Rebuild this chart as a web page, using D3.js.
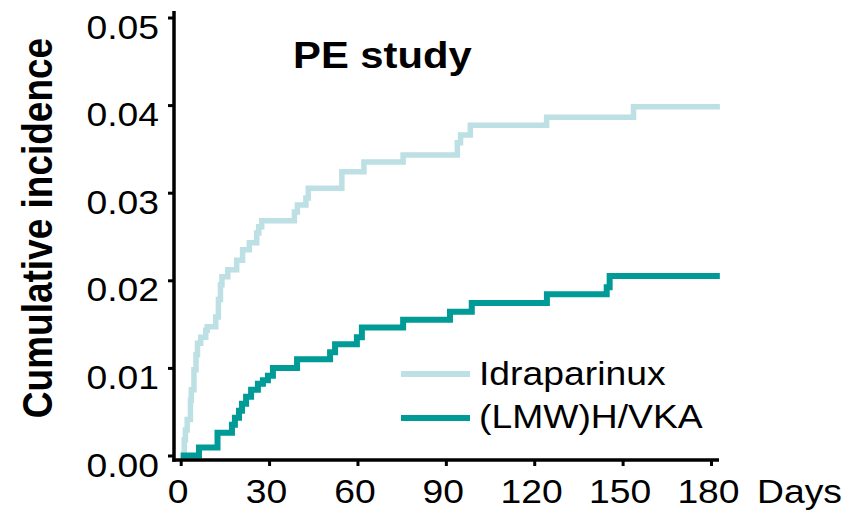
<!DOCTYPE html>
<html>
<head>
<meta charset="utf-8">
<script src="https://cdn.jsdelivr.net/npm/d3@7"></script>
<style>
  html, body { margin: 0; padding: 0; background: #fff; }
  svg { display: block; }
  text { font-family: "Liberation Sans", Arial, Helvetica, sans-serif; fill: #000; }
</style>
</head>
<body>
<svg id="chart" width="861" height="512"></svg>
<script>
// Cumulative incidence, PE study (Kaplan–Meier style step curves)
const idraDays = [0, 1.2, 1.6, 2.2, 3.3, 3.6, 4.5, 5.2, 5.7, 6.8, 8.5, 9.0, 11.9, 12.8, 13.5, 14.0, 16.0, 19.0, 21.0, 23.3, 25.8, 26.5, 27.5, 38.6, 39.6, 42.5, 43.3, 54.7, 62.2, 75.5, 93.9, 95.0, 98.3, 124.2, 153.7, 183];
const idraInc  = [0, 0.0018, 0.0029, 0.0041, 0.0063, 0.0075, 0.0098, 0.0115, 0.0128, 0.0135, 0.0143, 0.0147, 0.0158, 0.0178, 0.0195, 0.0204, 0.0212, 0.0223, 0.0235, 0.0243, 0.0254, 0.0261, 0.0268, 0.0278, 0.0286, 0.0294, 0.0305, 0.0324, 0.0335, 0.0343, 0.0357, 0.0366, 0.0377, 0.0386, 0.0398, 0.0398];

const lmwhDays = [0, 6.2, 12.5, 17.4, 18.4, 19.8, 20.8, 22.2, 23.9, 26.2, 27.9, 29.6, 31.3, 39.5, 50.7, 52.4, 59.8, 61.5, 75.5, 91.4, 98.8, 124.3, 144.6, 145.6, 183];
const lmwhInc  = [0, 0.0009, 0.0026, 0.0035, 0.0043, 0.0051, 0.0059, 0.0067, 0.0075, 0.0082, 0.0086, 0.0091, 0.0100, 0.0110, 0.0118, 0.0127, 0.0135, 0.0146, 0.0155, 0.0164, 0.0174, 0.0184, 0.0192, 0.0205, 0.0205];

const seriesNames = ["Idraparinux", "(LMW)H/VKA"];
const seriesColors = ["#bce0e3", "#009a97"];

const xTicks = [0, 30, 60, 90, 120, 150, 180];
const yTicks = [0.00, 0.01, 0.02, 0.03, 0.04, 0.05];

const titleText = "PE study";
const yLabel = "Cumulative incidence";
const xUnit = "Days";

// Layout
const SX = 1.13; // horizontal text stretch
const axisLeftX = 174, axisBottomY = 460, axisTopY = 11, axisRightX = 719;

const svg = d3.select("#chart");

const x = d3.scaleLinear().domain([0, 180]).range([180.7, 711]);
const y = d3.scaleLinear().domain([0, 0.05]).range([455.5, 17.5]);

function stretchedText(g, px, py, str) {
  return g.append("text")
    .attr("transform", `translate(${px},${py}) scale(${SX},1)`)
    .text(str);
}

// Curves
const line = d3.line()
  .x(d => x(d[0]))
  .y(d => y(d[1]))
  .curve(d3.curveStepAfter);

const series = [
  { name: seriesNames[0], color: seriesColors[0], width: 5.5, pts: idraDays.map((d, i) => [d, idraInc[i]]) },
  { name: seriesNames[1], color: seriesColors[1], width: 6, pts: lmwhDays.map((d, i) => [d, lmwhInc[i]]) }
];

svg.append("g").selectAll("path")
  .data(series)
  .join("path")
  .attr("d", d => line(d.pts))
  .attr("fill", "none")
  .attr("stroke", d => d.color)
  .attr("stroke-width", d => d.width)
  .attr("stroke-linejoin", "miter")
  .attr("stroke-linecap", "butt");

// Axes
const yAxis = svg.append("g")
  .attr("transform", `translate(${axisLeftX},0)`)
  .call(d3.axisLeft(y).tickValues(yTicks).tickSize(6).tickFormat(d3.format(".2f")));
yAxis.select(".domain").remove();
yAxis.selectAll(".tick line").attr("stroke", "#000").attr("stroke-width", 3);
yAxis.selectAll(".tick text")
  .attr("x", null).attr("dy", null)
  .attr("transform", `translate(-15,20.5) scale(${SX},1)`)
  .attr("text-anchor", "end")
  .style("font-size", "33px")
  .style("font-family", "'Liberation Sans', Arial, sans-serif")
  .attr("fill", "#000");

const xAxis = svg.append("g")
  .attr("transform", `translate(0,${axisBottomY})`)
  .call(d3.axisBottom(x).tickValues(xTicks).tickSize(6));
xAxis.select(".domain").remove();
xAxis.selectAll(".tick line").attr("stroke", "#000").attr("stroke-width", 3);
xAxis.selectAll(".tick text")
  .attr("y", null).attr("dy", null)
  .attr("transform", `translate(-3,43) scale(${SX},1)`)
  .attr("text-anchor", "middle")
  .style("font-size", "33px")
  .style("font-family", "'Liberation Sans', Arial, sans-serif")
  .attr("fill", "#000");

svg.append("line")
  .attr("x1", axisLeftX).attr("x2", axisLeftX)
  .attr("y1", axisTopY).attr("y2", axisBottomY + 1.75)
  .attr("stroke", "#000").attr("stroke-width", 3.5);
svg.append("line")
  .attr("x1", axisLeftX - 1.75).attr("x2", axisRightX)
  .attr("y1", axisBottomY).attr("y2", axisBottomY)
  .attr("stroke", "#000").attr("stroke-width", 3.5);

// Axis unit
stretchedText(svg, 757, 503, xUnit).style("font-size", "33px");

// Y label
svg.append("text")
  .attr("transform", `translate(52,228) scale(${SX},1) rotate(-90)`)
  .attr("text-anchor", "middle")
  .style("font-size", "37px")
  .style("font-weight", "bold")
  .text(yLabel);

// Title
stretchedText(svg, 293, 68, titleText)
  .style("font-size", "37px")
  .style("font-weight", "bold");

// Legend
const legend = svg.append("g");
const legendRows = [{ y: 374, tb: 385 }, { y: 418, tb: 428 }];
series.forEach((s, i) => {
  legend.append("line")
    .attr("x1", 401).attr("x2", 470)
    .attr("y1", legendRows[i].y).attr("y2", legendRows[i].y)
    .attr("stroke", s.color).attr("stroke-width", 6);
  stretchedText(legend, 479, legendRows[i].tb, s.name).style("font-size", "33px");
});
</script>
</body>
</html>
